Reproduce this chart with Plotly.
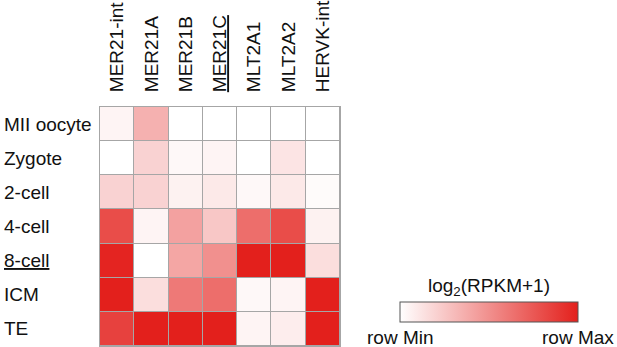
import plotly.graph_objects as go

repeats = ["MER21-int", "MER21A", "MER21B", "<u>MER21C</u>", "MLT2A1", "MLT2A2", "HERVK-int"]
stages = ["MII oocyte", "Zygote", "2-cell", "4-cell", "<u>8-cell</u>", "ICM", "TE"]

mii_oocyte = [0.05, 0.35, 0.0, 0.0, 0.0, 0.0, 0.0]
zygote     = [0.0, 0.20, 0.03, 0.05, 0.0, 0.12, 0.0]
cell2      = [0.20, 0.20, 0.06, 0.10, 0.03, 0.10, 0.02]
cell4      = [0.80, 0.05, 0.42, 0.25, 0.65, 0.80, 0.06]
cell8      = [0.98, 0.0, 0.40, 0.50, 1.0, 1.0, 0.15]
icm        = [1.0, 0.15, 0.60, 0.65, 0.03, 0.05, 1.0]
te         = [0.85, 1.0, 1.0, 1.0, 0.05, 0.08, 1.0]

z = [mii_oocyte, zygote, cell2, cell4, cell8, icm, te]
legend_title = "log<sub>2</sub>(RPKM+1)"
legend_ticks = ["row Min", "row Max"]

FONT = "Liberation Sans, Arial, sans-serif"
GRID = "#a6a6a6"
FS = 19
CB_X, CB_LEFT, CB_RIGHT = 1.62, 1.25, 1.9917

fig = go.Figure(go.Heatmap(
    z=z, x=repeats, y=stages,
    zmin=0, zmax=1,
    colorscale=[[0, "#ffffff"], [1, "#e3201c"]],
    xgap=1, ygap=1,
    colorbar=dict(
        orientation="h",
        x=CB_X, xanchor="center",
        y=0.184, yanchor="top",
        lenmode="pixels", len=178,
        thickness=20,
        xpad=0, ypad=0,
        outlinewidth=1, outlinecolor="#555555",
        showticklabels=False, ticks="",
    ),
))

fig.add_annotation(text=legend_title, x=CB_X, xref="paper", y=0.187, yref="paper",
                   xanchor="center", yanchor="bottom", showarrow=False,
                   font=dict(size=FS, color="#111111", family=FONT))
for txt, xp in zip(legend_ticks, [CB_LEFT, CB_RIGHT]):
    fig.add_annotation(text=txt, x=xp, xref="paper", y=0.088, yref="paper",
                       xanchor="center", yanchor="top", showarrow=False,
                       font=dict(size=FS, color="#111111", family=FONT))

for s in stages:
    fig.add_annotation(text=s, x=-0.408, xref="paper", y=s, yref="y",
                       xanchor="left", yanchor="middle", showarrow=False,
                       font=dict(size=FS, color="#111111", family=FONT))

fig.update_xaxes(side="top", tickangle=-90, showgrid=False, zeroline=False,
                 ticks="outside", ticklen=10, tickcolor="rgba(0,0,0,0)",
                 tickfont=dict(size=FS, color="#111111", family=FONT),
                 showline=True, mirror=True, linecolor=GRID, linewidth=1)
fig.update_yaxes(autorange="reversed", showticklabels=False, showgrid=False,
                 zeroline=False, ticks="",
                 showline=True, mirror=True, linecolor=GRID, linewidth=1)

fig.update_layout(
    width=617, height=347,
    margin=dict(l=100, r=277, t=107, b=1, autoexpand=False),
    plot_bgcolor=GRID, paper_bgcolor="white",
    font=dict(family=FONT),
    showlegend=False,
)

fig.write_html("out.html", config={"displayModeBar": False},
               post_script="document.body.style.margin='0px';document.body.style.overflow='hidden';")
